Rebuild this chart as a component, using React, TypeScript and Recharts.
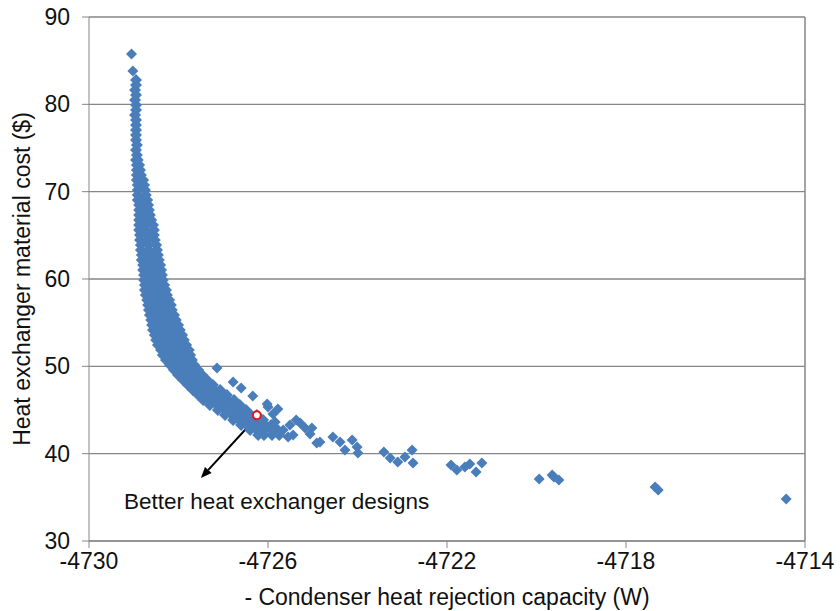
import React from "react";
import {
  ScatterChart,
  Scatter,
  XAxis,
  YAxis,
  CartesianGrid,
  ReferenceLine,
  ReferenceDot,
} from "recharts";

// dense part of the front: [cost, capacities...]
const DENSE_ROWS: [number, number[]][] = [
  [82.79, [-4728.95]],
  [82.21, [-4728.95]],
  [81.64, [-4728.97]],
  [81.07, [-4728.95]],
  [80.5, [-4728.97]],
  [79.92, [-4728.95]],
  [79.35, [-4728.95]],
  [78.78, [-4728.97]],
  [78.21, [-4728.95]],
  [77.63, [-4728.95]],
  [77.06, [-4728.95]],
  [76.49, [-4728.95]],
  [75.92, [-4728.95]],
  [75.34, [-4728.93]],
  [74.77, [-4728.95]],
  [74.2, [-4728.93]],
  [73.63, [-4728.95, -4728.91]],
  [73.05, [-4728.93, -4728.88]],
  [72.48, [-4728.93, -4728.86]],
  [71.91, [-4728.93, -4728.84]],
  [71.34, [-4728.93, -4728.79]],
  [70.76, [-4728.91, -4728.77]],
  [70.19, [-4728.91, -4728.75]],
  [69.62, [-4728.91, -4728.73]],
  [69.05, [-4728.91, -4728.79, -4728.7]],
  [68.47, [-4728.88, -4728.77, -4728.68]],
  [67.9, [-4728.88, -4728.77, -4728.66]],
  [67.33, [-4728.88, -4728.75, -4728.64]],
  [66.76, [-4728.88, -4728.75, -4728.61]],
  [66.18, [-4728.88, -4728.73, -4728.57]],
  [65.61, [-4728.88, -4728.73, -4728.55]],
  [65.04, [-4728.86, -4728.7, -4728.55]],
  [64.46, [-4728.86, -4728.7, -4728.53]],
  [63.89, [-4728.84, -4728.68, -4728.5]],
  [63.32, [-4728.84, -4728.66, -4728.48]],
  [62.75, [-4728.82, -4728.68, -4728.55, -4728.46]],
  [62.17, [-4728.82, -4728.68, -4728.55, -4728.44]],
  [61.6, [-4728.79, -4728.66, -4728.53, -4728.41]],
  [61.03, [-4728.79, -4728.66, -4728.53, -4728.39]],
  [60.46, [-4728.77, -4728.64, -4728.5, -4728.37]],
  [59.88, [-4728.77, -4728.64, -4728.48, -4728.35]],
  [59.31, [-4728.75, -4728.61, -4728.46, -4728.32]],
  [58.74, [-4728.75, -4728.59, -4728.44, -4728.28]],
  [58.17, [-4728.73, -4728.57, -4728.41, -4728.26]],
  [57.59, [-4728.7, -4728.55, -4728.39, -4728.21]],
  [57.02, [-4728.68, -4728.55, -4728.41, -4728.28, -4728.17]],
  [56.45, [-4728.66, -4728.53, -4728.39, -4728.26, -4728.15]],
  [55.88, [-4728.64, -4728.5, -4728.37, -4728.23, -4728.1]],
  [55.3, [-4728.61, -4728.48, -4728.32, -4728.19, -4728.06]],
  [54.73, [-4728.59, -4728.44, -4728.28, -4728.15, -4728.01]],
  [54.16, [-4728.57, -4728.41, -4728.26, -4728.1, -4727.97]],
  [53.59, [-4728.53, -4728.37, -4728.21, -4728.06, -4727.92]],
  [53.01, [-4728.5, -4728.35, -4728.19, -4728.03, -4727.88]],
  [52.44, [-4728.46, -4728.3, -4728.15, -4727.99, -4727.83]],
  [51.87, [-4728.39, -4728.23, -4728.08, -4727.92, -4727.77]],
  [51.3, [-4728.35, -4728.19, -4728.03, -4727.88, -4727.74]],
  [50.72, [-4728.28, -4728.12, -4727.97, -4727.83, -4727.7]],
  [50.15, [-4728.19, -4728.06, -4727.92, -4727.79, -4727.65]],
  [49.58, [-4728.1, -4727.97, -4727.83, -4727.7, -4727.56]],
  [49.01, [-4728.01, -4727.88, -4727.74, -4727.61, -4727.47]],
  [48.43, [-4727.9, -4727.77, -4727.63, -4727.5, -4727.36]],
  [47.86, [-4727.79, -4727.65, -4727.5, -4727.36, -4727.23]],
  [47.29, [-4727.68, -4727.52, -4727.36, -4727.21, -4727.07]],
  [46.72, [-4727.56, -4727.43, -4727.27, -4727.12, -4726.98, -4726.92]],
  [46.14, [-4727.45, -4727.32, -4727.16, -4727.03, -4726.89, -4726.76]],
  [45.57, [-4727.3, -4727.14, -4727.01, -4726.87, -4726.74, -4726.63]],
  [45.0, [-4727.12, -4726.96, -4726.8, -4726.65, -4726.49]],
  [44.43, [-4726.96, -4726.8, -4726.65, -4726.51, -4726.38, -4726.25]],
  [43.85, [-4726.78, -4726.65, -4726.51, -4726.38, -4726.25, -4726.11]],
  [43.28, [-4726.6, -4726.47, -4726.34, -4726.2, -4726.07, -4725.93]],
  [42.71, [-4726.4, -4726.25, -4726.09, -4725.93, -4725.78]],
  [42.14, [-4726.22, -4726.09, -4725.91, -4725.75]],
];

// scattered designs: [capacity, cost]
const TAIL_POINTS: [number, number][] = [
  [-4729.05, 85.76],
  [-4729.02, 83.82],
  [-4727.14, 49.81],
  [-4726.78, 48.2],
  [-4726.6, 47.52],
  [-4726.34, 46.6],
  [-4726.02, 45.69],
  [-4725.78, 45.11],
  [-4725.89, 44.54],
  [-4726.0, 45.34],
  [-4725.84, 43.62],
  [-4725.66, 42.71],
  [-4725.51, 43.28],
  [-4725.37, 43.85],
  [-4725.44, 42.14],
  [-4725.55, 41.91],
  [-4725.28, 43.51],
  [-4725.17, 42.94],
  [-4725.02, 42.94],
  [-4725.06, 42.25],
  [-4724.91, 41.22],
  [-4724.84, 41.33],
  [-4724.55, 41.91],
  [-4724.39, 41.33],
  [-4724.28, 40.42],
  [-4724.12, 41.56],
  [-4724.01, 40.76],
  [-4723.99, 40.07],
  [-4723.41, 40.19],
  [-4723.27, 39.5],
  [-4723.1, 39.04],
  [-4722.94, 39.62],
  [-4722.78, 40.42],
  [-4722.76, 38.93],
  [-4721.91, 38.7],
  [-4721.78, 38.13],
  [-4721.6, 38.47],
  [-4721.49, 38.82],
  [-4721.35, 37.9],
  [-4721.22, 38.93],
  [-4719.94, 37.1],
  [-4719.65, 37.56],
  [-4719.61, 37.33],
  [-4719.5, 36.98],
  [-4717.35, 36.18],
  [-4717.28, 35.84],
  [-4714.42, 34.81],
];

const BEST_DESIGN = { x: -4726.25, y: 44.4 };
const ARROW_FROM = { x: -4726.31, y: 43.85 };
const ARROW_TO = { x: -4727.5, y: 37.21 };

const X_TICKS = [-4730, -4726, -4722, -4718, -4714];
const Y_TICKS = [30, 40, 50, 60, 70, 80, 90];

const MARKER = "#4a7ebb";
const AXIS = "#868686";
const TEXT = "#111";
const FONT = "'Liberation Sans', Arial, sans-serif";

const densePoints = DENSE_ROWS.flatMap(([y, xs]) => xs.map((x) => ({ x, y })));
const tailPoints = TAIL_POINTS.map(([x, y]) => ({ x, y }));

function diamond(r: number) {
  return (props: any) => {
    const { cx, cy } = props;
    if (cx == null || cy == null) return null;
    return (
      <path
        d={`M${cx},${cy - r}L${cx + r},${cy}L${cx},${cy + r}L${cx - r},${cy}Z`}
        fill={MARKER}
      />
    );
  };
}

function Arrow(props: any) {
  const { x1, y1, x2, y2 } = props;
  const a = Math.atan2(y2 - y1, x2 - x1);
  const len = 11;
  const w = 4.5;
  const bx = x2 - len * Math.cos(a);
  const by = y2 - len * Math.sin(a);
  const p1 = `${bx + w * Math.sin(a)},${by - w * Math.cos(a)}`;
  const p2 = `${bx - w * Math.sin(a)},${by + w * Math.cos(a)}`;
  return (
    <g>
      <line x1={x1} y1={y1} x2={bx} y2={by} stroke="#000" strokeWidth={2} />
      <polygon points={`${x2},${y2} ${p1} ${p2}`} fill="#000" />
    </g>
  );
}

export default function App() {
  const tick = { fill: TEXT, fontSize: 23, fontFamily: FONT };
  return (
    <div
      style={{
        position: "absolute",
        left: 0,
        top: 0,
        width: 840,
        height: 611,
        background: "#fff",
        fontFamily: FONT,
      }}
    >
      <ScatterChart
        width={840}
        height={611}
        margin={{ top: 17, right: 35, bottom: 0, left: 0 }}
      >
        <CartesianGrid vertical={false} stroke={AXIS} strokeWidth={1.3} />
        <XAxis
          type="number"
          dataKey="x"
          domain={[-4730, -4714]}
          ticks={X_TICKS}
          interval={0}
          height={70}
          tickSize={7}
          tickMargin={5}
          stroke={AXIS}
          tick={tick}
          label={{
            value: "- Condenser heat rejection capacity (W)",
            position: "insideBottom",
            offset: 6,
            style: { fill: TEXT, fontSize: 23, fontFamily: FONT },
          }}
        />
        <YAxis
          type="number"
          dataKey="y"
          domain={[30, 90]}
          ticks={Y_TICKS}
          interval={0}
          width={89}
          tickSize={7}
          tickMargin={12}
          stroke={AXIS}
          tick={tick}
          label={{
            value: "Heat exchanger material cost ($)",
            angle: -90,
            position: "insideLeft",
            offset: 22,
            style: {
              fill: TEXT,
              fontSize: 23,
              fontFamily: FONT,
              textAnchor: "middle",
            },
          }}
        />
        <ReferenceLine x={-4714} stroke={AXIS} strokeWidth={1.5} />
        <Scatter data={densePoints} shape={diamond(6)} isAnimationActive={false} />
        <Scatter data={tailPoints} shape={diamond(5.5)} isAnimationActive={false} />
        <ReferenceLine
          segment={[ARROW_FROM, ARROW_TO]}
          shape={Arrow}
          ifOverflow="visible"
        />
        <ReferenceDot
          x={BEST_DESIGN.x}
          y={BEST_DESIGN.y}
          r={4}
          fill="#fff"
          stroke="#e8141c"
          strokeWidth={2}
          ifOverflow="visible"
        />
      </ScatterChart>
      <div
        style={{
          position: "absolute",
          left: 124,
          top: 489,
          fontSize: 22.5,
          color: TEXT,
          whiteSpace: "nowrap",
        }}
      >
        Better heat exchanger designs
      </div>
    </div>
  );
}
